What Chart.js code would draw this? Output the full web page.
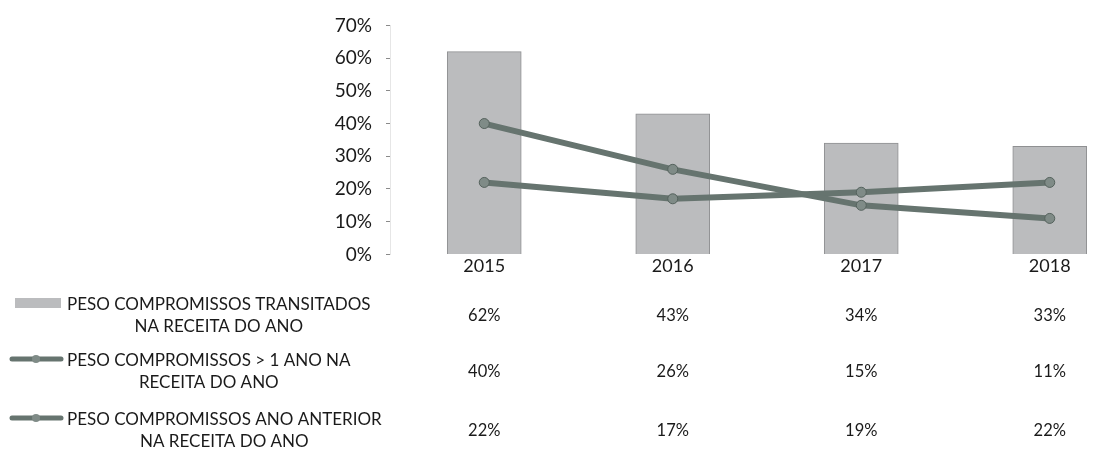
<!DOCTYPE html>
<html>
<head>
<meta charset="utf-8">
<script src="https://cdn.jsdelivr.net/npm/chart.js@4"></script>
<style>
  html, body { margin: 0; padding: 0; background: #fff; overflow: hidden; }
  #wrap { width: 1150px; height: 450px; }
</style>
</head>
<body>
<div id="wrap"><canvas id="chart"></canvas></div>
<script>
const years = ['2015', '2016', '2017', '2018'];
const seriesNames = [
  ['PESO COMPROMISSOS TRANSITADOS', 'NA RECEITA DO ANO'],
  ['PESO COMPROMISSOS > 1 ANO NA', 'RECEITA DO ANO'],
  ['PESO COMPROMISSOS ANO ANTERIOR', 'NA RECEITA DO ANO']
];
const transitados = [62, 43, 34, 33];
const maisUmAno = [40, 26, 15, 11];
const anoAnterior = [22, 17, 19, 22];
const yMin = 0, yMax = 70, yStep = 10;

const barColor = '#bbbcbe';
const lineColor = '#66746f';
const textFont = 'Lato, "DejaVu Sans", sans-serif';

// row y positions of the data table drawn under the axis
const tableRows = [316, 372, 431];

const dataTable = {
  id: 'dataTable',
  afterDraw(chart) {
    const ctx = chart.ctx;
    const x = chart.scales.x;
    const rows = [transitados, maisUmAno, anoAnterior];
    ctx.save();
    ctx.fillStyle = '#1a1a1a';
    ctx.textBaseline = 'middle';

    rows.forEach((vals, i) => {
      const y = tableRows[i];
      const lines = seriesNames[i];

      // legend text, a centred block starting at x=67
      ctx.font = '17px ' + textFont;
      const w = Math.max(...lines.map(l => ctx.measureText(l).width));
      ctx.textAlign = 'center';
      ctx.fillText(lines[0], 67 + w / 2, y - 11);
      ctx.fillText(lines[1], 67 + w / 2, y + 11);

      // legend symbol
      const sy = y - 13;
      if (i === 0) {
        ctx.fillStyle = barColor;
        ctx.fillRect(15, sy - 5, 46, 10);
      } else {
        ctx.strokeStyle = lineColor;
        ctx.lineWidth = 5;
        ctx.lineCap = 'round';
        ctx.beginPath();
        ctx.moveTo(12, sy);
        ctx.lineTo(61, sy);
        ctx.stroke();
        ctx.fillStyle = '#7f8b87';
        ctx.beginPath();
        ctx.arc(36, sy, 4, 0, Math.PI * 2);
        ctx.fill();
      }
      ctx.fillStyle = '#1a1a1a';

      // values
      ctx.font = '16.5px ' + textFont;
      vals.forEach((v, j) => {
        ctx.fillText(v + '%', x.getPixelForValue(j), y);
      });
    });
    ctx.restore();
  }
};

new Chart(document.getElementById('chart'), {
  data: {
    labels: years,
    datasets: [
      {
        type: 'line',
        label: seriesNames[1].join(' '),
        data: maisUmAno,
        borderColor: lineColor,
        borderWidth: 6,
        pointRadius: 5,
        pointBackgroundColor: '#7f8b87',
        pointBorderColor: '#55625d',
        pointBorderWidth: 1,
        order: 1
      },
      {
        type: 'line',
        label: seriesNames[2].join(' '),
        data: anoAnterior,
        borderColor: lineColor,
        borderWidth: 6,
        pointRadius: 5,
        pointBackgroundColor: '#7f8b87',
        pointBorderColor: '#55625d',
        pointBorderWidth: 1,
        order: 2
      },
      {
        type: 'bar',
        label: seriesNames[0].join(' '),
        data: transitados,
        backgroundColor: barColor,
        borderColor: '#8f9092',
        borderWidth: 1,
        barThickness: 74,
        order: 3
      }
    ]
  },
  options: {
    responsive: true,
    maintainAspectRatio: false,
    animation: false,
    layout: { padding: { top: 20, right: 0, bottom: 172, left: 0 } },
    plugins: {
      legend: { display: false },
      tooltip: { enabled: false }
    },
    scales: {
      x: {
        grid: { display: false, drawTicks: false },
        border: { display: false },
        ticks: { color: '#1a1a1a', font: { family: textFont, size: 18 }, padding: 1 }
      },
      y: {
        min: yMin,
        max: yMax,
        grid: { drawOnChartArea: false, drawTicks: true, tickLength: 4, color: '#8a8a8a' },
        border: { display: true, color: '#e6e6e6' },
        ticks: {
          stepSize: yStep,
          padding: 14,
          color: '#1a1a1a',
          font: { family: textFont, size: 19 },
          callback: v => v + '%'
        },
        afterFit(scale) { scale.width = 390; }
      }
    }
  },
  plugins: [dataTable]
});
</script>
</body>
</html>
